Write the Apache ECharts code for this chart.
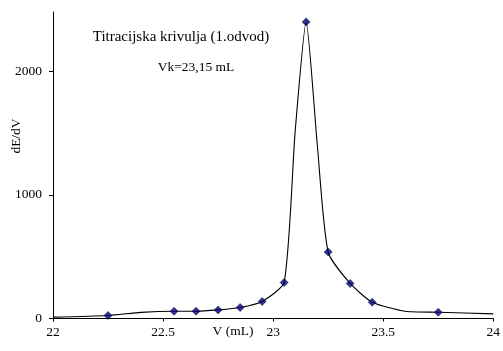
<!DOCTYPE html>
<html>
<head>
<meta charset="utf-8">
<script src="https://cdn.jsdelivr.net/npm/echarts@6/dist/echarts.min.js"></script>
<style>html,body{margin:0;padding:0;background:#fff}#c{width:503px;height:351px}</style>
</head>
<body>
<div id="c"></div>
<script>
// Marked measurement points
var markerV = [22.25, 22.55, 22.65, 22.75, 22.85, 22.95, 23.05, 23.15, 23.25, 23.35, 23.45, 23.75];
var markerD = [25, 59, 59, 70, 89, 138, 292, 2400, 538, 284, 132, 51];
// Smoothed curve points
var lineV = [22.0, 22.25, 22.4, 22.55, 22.65, 22.75, 22.85, 22.95, 23.05, 23.1, 23.15, 23.2, 23.25, 23.35, 23.45, 23.6, 23.75, 24.0];
var lineD = [11, 25, 50, 59, 59, 70, 89, 138, 292, 1510, 2400, 1420, 538, 284, 132, 59, 51, 38];
var xTicks = [22, 22.5, 23, 23.5, 24];
var yTicks = [0, 1000, 2000];
var titleText = 'Titracijska krivulja (1.odvod)';
var vkText = 'Vk=23,15 mL';
var xName = 'V (mL)';
var yName = 'dE/dV';

function pairs(a, b) { return a.map(function (v, i) { return [v, b[i]]; }); }

var font = 'Liberation Serif';
var chart = echarts.init(document.getElementById('c'), null, {renderer: 'canvas'});
chart.setOption({
  animation: false,
  backgroundColor: '#fff',
  grid: {left: 53, right: 9, top: 12, bottom: 30, containLabel: false},
  xAxis: {
    type: 'value', min: 22, max: 24, interval: 0.5,
    axisLine: {lineStyle: {color: '#000', width: 1}},
    axisTick: {length: 3, lineStyle: {color: '#000'}},
    splitLine: {show: false},
    axisLabel: {color: '#000', fontFamily: font, fontSize: 13.5, margin: 4,
      customValues: xTicks, formatter: function (v) { return String(v); }}
  },
  yAxis: {
    type: 'value', min: -20, max: 2480,
    axisLine: {show: true, lineStyle: {color: '#000', width: 1}},
    axisTick: {show: true, length: 4, customValues: yTicks, lineStyle: {color: '#000'}},
    splitLine: {show: false},
    axisLabel: {color: '#000', fontFamily: font, fontSize: 13.5, margin: 11, customValues: yTicks,
      formatter: function (v) { return String(v); }}
  },
  graphic: [
    {type: 'text', x: 181, y: 37, style: {text: titleText, font: '15px "Liberation Serif"', fill: '#000', align: 'center', verticalAlign: 'middle'}},
    {type: 'text', x: 196, y: 67, style: {text: vkText, font: '13.5px "Liberation Serif"', fill: '#000', align: 'center', verticalAlign: 'middle'}},
    {type: 'text', x: 233, y: 331, style: {text: xName, font: '13.5px "Liberation Serif"', fill: '#000', align: 'center', verticalAlign: 'middle'}},
    {type: 'text', x: 16, y: 136, rotation: Math.PI / 2, style: {text: yName, font: '13.5px "Liberation Serif"', fill: '#000', align: 'center', verticalAlign: 'middle'}}
  ],
  series: [
    {type: 'line', data: pairs(lineV, lineD), smooth: 0.2, showSymbol: false, symbol: 'none',
      lineStyle: {color: '#000', width: 1.1}, z: 2},
    {type: 'scatter', data: pairs(markerV, markerD), symbol: 'diamond', symbolSize: 8,
      itemStyle: {color: '#000080', borderColor: '#000', borderWidth: 0.6}, z: 3}
  ]
});
</script>
</body>
</html>
